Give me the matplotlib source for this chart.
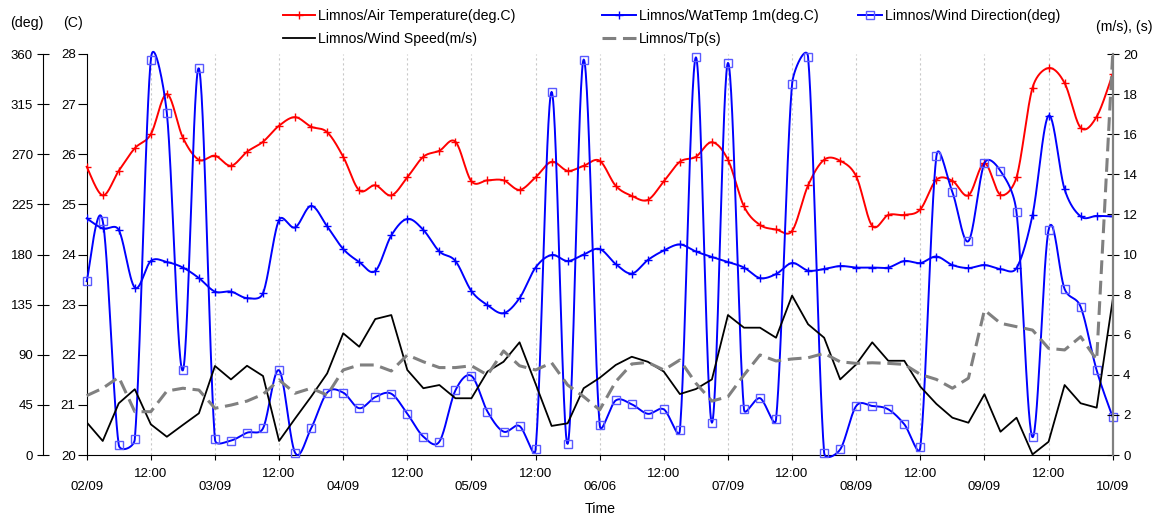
import numpy as np
import matplotlib
matplotlib.use('Agg')
import matplotlib.pyplot as plt
from matplotlib.lines import Line2D

plt.rcParams['font.family'] = ['Liberation Sans', 'DejaVu Sans']

# ---------------- data (3-hourly, 02/09 00:00 -> 10/09 00:00) ----------------
hours = np.arange(0, 193, 3)

air_temp = [25.75, 25.18, 25.67, 26.12, 26.40, 27.20, 26.33, 25.89, 25.97, 25.77,
            26.05, 26.25, 26.57, 26.74, 26.55, 26.44, 25.95, 25.28, 25.38, 25.18,
            25.54, 25.95, 26.07, 26.25, 25.46, 25.48, 25.48, 25.29, 25.54, 25.85,
            25.67, 25.77, 25.87, 25.37, 25.17, 25.09, 25.46, 25.85, 25.95, 26.24,
            25.89, 24.96, 24.59, 24.50, 24.47, 25.38, 25.89, 25.87, 25.56, 24.57,
            24.79, 24.79, 24.90, 25.49, 25.47, 25.18, 25.82, 25.19, 25.54, 27.33,
            27.72, 27.42, 26.53, 26.75, 27.60]

wat_temp = [24.72, 24.52, 24.49, 23.34, 23.87, 23.85, 23.74, 23.53, 23.26, 23.26,
            23.13, 23.23, 24.69, 24.54, 24.97, 24.56, 24.11, 23.85, 23.67, 24.38,
            24.71, 24.49, 24.06, 23.87, 23.27, 22.99, 22.83, 23.13, 23.74, 23.99,
            23.87, 24.00, 24.11, 23.81, 23.62, 23.89, 24.08, 24.20, 24.06, 23.95,
            23.85, 23.74, 23.53, 23.61, 23.83, 23.68, 23.71, 23.77, 23.74, 23.74,
            23.74, 23.87, 23.83, 23.96, 23.79, 23.73, 23.79, 23.71, 23.73, 24.79,
            26.77, 25.30, 24.76, 24.77, 24.76]

wind_dir = [156, 210, 9, 14, 355, 307, 76, 347, 14, 13,
            20, 24, 76, 2, 24, 56, 56, 42, 52, 55,
            37, 16.5, 12, 58, 71, 39, 21, 26, 5, 326,
            10, 355, 27, 49, 45.5, 37, 41, 22, 357, 29,
            352, 41, 51, 32, 333, 357, 2, 5, 44, 44,
            41, 27.6, 7, 268, 236, 192, 262, 255, 218, 16,
            202, 149, 133, 76, 34]

wind_speed = [1.63, 0.70, 2.58, 3.28, 1.53, 0.91, 1.50, 2.08, 4.44, 3.77,
              4.45, 3.94, 0.70, 1.82, 2.91, 4.07, 6.07, 5.40, 6.78, 6.98,
              4.24, 3.33, 3.49, 2.83, 2.83, 4.16, 4.65, 5.62, 3.55, 1.45,
              1.58, 3.33, 3.85, 4.49, 4.90, 4.65, 4.16, 3.04, 3.29, 3.77,
              6.98, 6.35, 6.35, 5.85, 7.95, 6.52, 5.85, 3.77, 4.52, 5.62,
              4.70, 4.70, 3.41, 2.55, 1.86, 1.61, 3.03, 1.16, 1.86, 0.03,
              0.66, 3.49, 2.58, 2.36, 7.73]

tp = [2.96, 3.33, 3.88, 2.16, 2.16, 3.19, 3.33, 3.24, 2.33, 2.49,
      2.69, 3.03, 3.74, 3.08, 3.33, 2.99, 4.24, 4.49, 4.49, 4.19,
      4.99, 4.65, 4.36, 4.36, 4.45, 3.99, 5.19, 4.45, 4.24, 4.60,
      3.49, 2.91, 2.25, 3.66, 4.54, 4.62, 4.24, 4.74, 3.58, 2.69,
      2.91, 3.99, 4.99, 4.69, 4.79, 4.85, 5.07, 4.65, 4.57, 4.60,
      4.57, 4.52, 4.02, 3.77, 3.33, 3.83, 7.23, 6.57, 6.40, 6.23,
      5.32, 5.24, 5.90, 4.74, 20.0]

date_labels = ['02/09', '03/09', '04/09', '05/09', '06/06', '07/09', '08/09', '09/09', '10/09']
noon_label = '12:00'
deg_ticks = [0, 45, 90, 135, 180, 225, 270, 315, 360]
c_ticks = [20, 21, 22, 23, 24, 25, 26, 27, 28]
right_ticks = [0, 2, 4, 6, 8, 10, 12, 14, 16, 18, 20]

# ---------------- figure / axes ----------------
W, H = 1157, 515
fig = plt.figure(figsize=(W / 100, H / 100), dpi=100)
x0, x1, y0, y1 = 86.7, 1112.7, 54, 455
ax = fig.add_axes([x0 / W, 1 - y1 / H, (x1 - x0) / W, (y1 - y0) / H])
axd = ax.twinx()
axr = ax.twinx()

ax.set_xlim(0, 192)
ax.set_ylim(20, 28)
axd.set_ylim(0, 360)
axr.set_ylim(0, 20)

TFS = 9.5
# C axis
for s in ['top', 'right']:
    ax.spines[s].set_visible(False)
ax.set_yticks(c_ticks)
ax.tick_params(axis='y', direction='out', length=6.5, width=0.8, pad=1.5, labelsize=TFS)
# deg axis
for s in ['top', 'right', 'bottom']:
    axd.spines[s].set_visible(False)
axd.spines['left'].set_visible(True)
axd.spines['left'].set_position(('outward', 31.2))
axd.yaxis.set_ticks_position('left')
axd.yaxis.set_label_position('left')
axd.set_yticks(deg_ticks)
axd.tick_params(axis='y', direction='inout', length=8, width=0.8, pad=3.5, labelsize=TFS)
# right axis
for s in ['top', 'left', 'bottom']:
    axr.spines[s].set_visible(False)
axr.spines['right'].set_color('#808080')
axr.spines['right'].set_linewidth(1.6)
axr.set_yticks(right_ticks)
axr.tick_params(axis='y', direction='inout', length=8, width=0.8, pad=3.5, labelsize=TFS)

# x axis
ax.set_xticks(np.arange(0, 193, 24))
ax.set_xticklabels(date_labels)
ax.set_xticks(np.arange(12, 192, 24), minor=True)
ax.set_xticklabels([noon_label] * 8, minor=True)
ax.tick_params(axis='x', which='major', direction='out', length=3.6, width=0.8, pad=15.3, labelsize=TFS)
ax.tick_params(axis='x', which='minor', direction='out', length=3.6, width=0.8, pad=5.8, labelsize=TFS)

for h in np.arange(12, 192, 12):
    ax.axvline(h, color='#C8C8C8', lw=0.8, ls=(0, (2, 2.5)), zorder=0)


# ---------------- Excel-like smoothed line ----------------
def excel_smooth(axis, x, y, k=0.5, n=30):
    P = axis.transData.transform(np.column_stack([x, y]))
    E = np.vstack([P[0], P, P[-1]])
    t = np.linspace(0, 1, n, endpoint=False)[:, None]
    segs = []
    for i in range(len(P) - 1):
        p0, p1, p2, p3 = E[i], E[i + 1], E[i + 2], E[i + 3]
        d12 = np.hypot(*(p2 - p1))
        v1, v2 = p2 - p0, p3 - p1
        n1, n2 = np.hypot(*v1), np.hypot(*v2)
        a1 = min(n1 / 6.0, k * d12)
        a2 = min(n2 / 6.0, k * d12)
        b1 = p1 + (v1 / n1 * a1 if n1 > 0 else 0)
        b2 = p2 - (v2 / n2 * a2 if n2 > 0 else 0)
        segs.append((1 - t) ** 3 * p1 + 3 * (1 - t) ** 2 * t * b1
                    + 3 * (1 - t) * t ** 2 * b2 + t ** 3 * p2)
    segs.append(P[-1:])
    D = axis.transData.inverted().transform(np.vstack(segs))
    return D[:, 0], D[:, 1]


RED, BLUE, SQ = '#FF0000', '#0000FF', '#5A5AFF'
LW = 1.4

# right axis series (straight lines)
axr.plot(hours, wind_speed, color='black', lw=1.3, zorder=2)
axr.plot(hours, tp, color='#808080', lw=2.2, dashes=(4.5, 2.2), zorder=2, clip_on=False)

# temperatures
sx, sy = excel_smooth(ax, hours, air_temp)
ax.plot(sx, sy, color=RED, lw=LW, clip_on=False, zorder=3)
ax.plot(hours, air_temp, ls='none', marker='+', ms=6, mew=1.0, color=RED, zorder=3)
sx, sy = excel_smooth(ax, hours, wat_temp)
ax.plot(sx, sy, color=BLUE, lw=LW, clip_on=False, zorder=3)
ax.plot(hours, wat_temp, ls='none', marker='+', ms=6, mew=1.0, color=BLUE, zorder=3)

# wind direction
sx, sy = excel_smooth(axd, hours, wind_dir)
axd.plot(sx, sy, color=BLUE, lw=LW, clip_on=False, zorder=3)
axd.plot(hours, wind_dir, ls='none', marker='s', ms=5.5, mew=1.0, mfc='none', mec=SQ,
         zorder=4, clip_on=False)

# ---------------- texts ----------------
LFS = 10.2
fig.text(10 / W, 1 - 27 / H, '(deg)', fontsize=LFS, ha='left', va='baseline')
fig.text(63 / W, 1 - 27 / H, '(C)', fontsize=LFS, ha='left', va='baseline')
fig.text(1152 / W, 1 - 30.5 / H, '(m/s), (s)', fontsize=LFS, ha='right', va='baseline')
fig.text(599.7 / W, 1.8 / H, 'Time', fontsize=LFS, ha='center', va='baseline')

# ---------------- legends ----------------
h_air = Line2D([], [], color=RED, lw=LW, marker='+', ms=6, mew=1.0)
h_ws = Line2D([], [], color='black', lw=1.3)
h_wt = Line2D([], [], color=BLUE, lw=LW, marker='+', ms=6, mew=1.0)
h_tp = Line2D([], [], color='#808080', lw=2.2, dashes=(4.5, 2.2))
h_wd = Line2D([], [], color=BLUE, lw=LW, marker='s', ms=5.5, mew=1.0, mfc='none', mec=SQ)

common = dict(loc='upper left', frameon=False, borderpad=0, borderaxespad=0,
              fontsize=LFS, labelspacing=0.6, handletextpad=0.2)
top = 1 - 9.0 / H
fig.legend([h_air, h_ws], ['Limnos/Air Temperature(deg.C)', 'Limnos/Wind Speed(m/s)'],
           bbox_to_anchor=(283 / W, top), handlelength=2.25, **common)
fig.legend([h_wt, h_tp], ['Limnos/WatTemp 1m(deg.C)', 'Limnos/Tp(s)'],
           bbox_to_anchor=(601.7 / W, top), handlelength=2.45, **common)
fig.legend([h_wd], ['Limnos/Wind Direction(deg)'],
           bbox_to_anchor=(857.7 / W, top), handlelength=1.75, **common)

fig.savefig('out.png', dpi=100)
